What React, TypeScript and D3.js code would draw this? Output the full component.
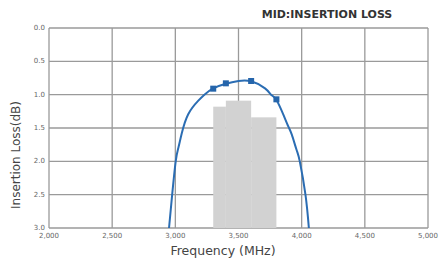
import React, { useRef, useEffect } from 'react';
import * as d3 from 'd3';

// Insertion loss curve (MHz, dB)
const curveFreq = [2950, 2975, 3003, 3025, 3051, 3103, 3182, 3230, 3300, 3400, 3500, 3600, 3710, 3758, 3800, 3855, 3895, 3922, 3960, 3985, 4030, 4057];
const curveLoss = [3.0, 2.5, 2.0, 1.79, 1.58, 1.29, 1.09, 1.0, 0.905, 0.835, 0.795, 0.8, 0.905, 1.0, 1.08, 1.3, 1.48, 1.6, 1.83, 2.0, 2.5, 3.0];

// Measured points (markers)
const markerFreq = [3300, 3400, 3600, 3800];
const markerLoss = [0.91, 0.83, 0.795, 1.07];

// Spec bands (gray steps)
const bandStart = [3300, 3400, 3600];
const bandEnd = [3400, 3600, 3800];
const bandLoss = [1.18, 1.09, 1.34];

const xTicks = [2000, 2500, 3000, 3500, 4000, 4500, 5000];
const yTicks = [0, 0.5, 1.0, 1.5, 2.0, 2.5, 3.0];

const W = 439;
const H = 263;

const App = () => {
    const ref = useRef<SVGSVGElement | null>(null);

    useEffect(() => {
        if (!ref.current) return;
        const svg = d3.select(ref.current);
        svg.selectAll('*').remove();

        const margin = { top: 28, right: 11, bottom: 35, left: 49 };
        const width = W - margin.left - margin.right;
        const height = H - margin.top - margin.bottom;
        const font = "'DejaVu Sans', Verdana, sans-serif";

        const x = d3.scaleLinear().domain([2000, 5000]).range([0, width]);
        const y = d3.scaleLinear().domain([0, 3]).range([0, height]);

        const g = svg.append('g').attr('transform', `translate(${margin.left},${margin.top})`);

        g.append('defs').append('clipPath').attr('id', 'plot-clip')
            .append('rect').attr('width', width).attr('height', height);

        g.append('rect').attr('width', width).attr('height', height).attr('fill', '#fff');

        // grid
        g.selectAll('.vgrid').data(xTicks).join('line')
            .attr('x1', d => x(d)).attr('x2', d => x(d))
            .attr('y1', 0).attr('y2', height)
            .attr('stroke', '#9a9a9a').attr('stroke-width', 1.3);
        g.selectAll('.hgrid').data(yTicks).join('line')
            .attr('y1', d => y(d)).attr('y2', d => y(d))
            .attr('x1', 0).attr('x2', width)
            .attr('stroke', '#9a9a9a').attr('stroke-width', 1.3);

        // gray bands
        g.selectAll('.band').data(bandStart).join('rect')
            .attr('x', (d) => x(d))
            .attr('width', (d, i) => x(bandEnd[i]) - x(d))
            .attr('y', (d, i) => y(bandLoss[i]))
            .attr('height', (d, i) => y(3) - y(bandLoss[i]))
            .attr('fill', '#d2d2d2');

        // curve
        const pts = curveFreq.map((f, i) => [f, curveLoss[i]] as [number, number]);
        const line = d3.line<[number, number]>()
            .x(d => x(d[0]))
            .y(d => y(d[1]))
            .curve(d3.curveNatural);
        g.append('path')
            .datum(pts)
            .attr('clip-path', 'url(#plot-clip)')
            .attr('fill', 'none')
            .attr('stroke', '#2b6db3')
            .attr('stroke-width', 2)
            .attr('d', line);

        // markers
        g.selectAll('.marker').data(markerFreq).join('rect')
            .attr('x', d => x(d) - 3)
            .attr('y', (d, i) => y(markerLoss[i]) - 3)
            .attr('width', 6).attr('height', 6)
            .attr('fill', '#2565ab');

        // tick labels
        g.selectAll('.ylab').data(yTicks).join('text')
            .attr('x', -4)
            .attr('y', d => y(d) + 2)
            .attr('text-anchor', 'end')
            .attr('font-family', font)
            .attr('font-size', 7)
            .attr('fill', '#666')
            .text(d => d3.format('.1f')(d));
        g.selectAll('.xlab').data(xTicks).join('text')
            .attr('x', d => x(d))
            .attr('y', height + 10)
            .attr('text-anchor', 'middle')
            .attr('font-family', font)
            .attr('font-size', 7)
            .attr('fill', '#666')
            .text(d => d3.format(',')(d));

        // titles
        svg.append('text')
            .attr('x', 327).attr('y', 18)
            .attr('text-anchor', 'middle')
            .attr('font-family', font)
            .attr('font-size', 11)
            .attr('font-weight', 'bold')
            .attr('fill', '#333')
            .text('MID:INSERTION LOSS');
        svg.append('text')
            .attr('x', 223).attr('y', 255)
            .attr('text-anchor', 'middle')
            .attr('font-family', font)
            .attr('font-size', 12.5)
            .attr('fill', '#444')
            .text('Frequency (MHz)');
        svg.append('text')
            .attr('transform', 'translate(20,155) rotate(-90)')
            .attr('text-anchor', 'middle')
            .attr('font-family', font)
            .attr('font-size', 12)
            .attr('fill', '#444')
            .text('Insertion Loss(dB)');
    }, []);

    return (
        <svg ref={ref} width={W} height={H}
            style={{ position: 'absolute', left: 0, top: 0, background: '#fff' }} />
    );
};

export default App;
